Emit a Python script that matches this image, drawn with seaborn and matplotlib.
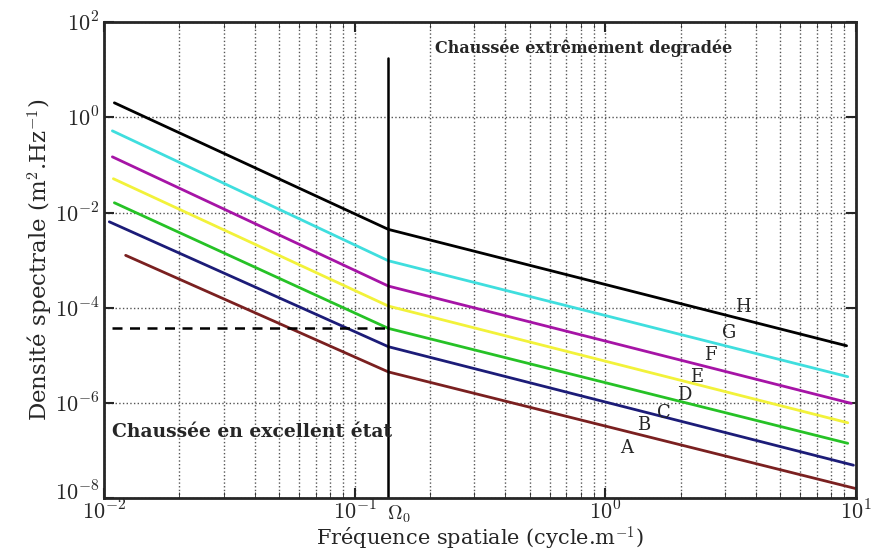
import numpy as np
import pandas as pd
import matplotlib
matplotlib.use('Agg')
import matplotlib.pyplot as plt
import matplotlib.transforms as mtrans
import seaborn as sns

# lectures sur la figure : debut, Omega0, fin
classes = ['H', 'G', 'F', 'E', 'D', 'C', 'A']
couleurs = ['#000000', '#3fdede', '#a614a6', '#f2f23a', '#26c226', '#1c1c78', '#7a2020']
x_debut = [0.011, 0.0108, 0.0108, 0.0109, 0.011, 0.0105, 0.0122]
x_fin = [9.2, 9.3, 9.6, 9.3, 9.3, 9.8, 10.0]
omega0 = 0.1365
log_debut = [0.305, -0.284, -0.83, -1.29, -1.795, -2.195, -2.90]
log_omega0 = [-2.355, -3.014, -3.546, -3.966, -4.435, -4.82, -5.35]
log_fin = [-4.80, -5.45, -6.01, -6.418, -6.85, -7.31, -7.80]

lettres = ['H', 'G', 'F', 'E', 'D', 'C', 'B', 'A']
lettres_x = [3.55, 3.12, 2.62, 2.31, 2.07, 1.72, 1.43, 1.22]
lettres_y = [1.03e-4, 2.9e-5, 1.0e-5, 3.5e-6, 1.45e-6, 6.1e-7, 3.5e-7, 1.1e-7]

seuil = 3.8e-5

rows = []
for c, xd, xf, a, b, e in zip(classes, x_debut, x_fin, log_debut, log_omega0, log_fin):
    rows.append((c, xd, 10 ** a))
    rows.append((c, omega0, 10 ** b))
    rows.append((c, xf, 10 ** e))
df = pd.DataFrame(rows, columns=['classe', 'n', 'Gd'])

sns.set_style('ticks')
plt.rcParams['font.family'] = ['DejaVu Serif']
plt.rcParams['mathtext.fontset'] = 'cm'

fig = plt.figure(figsize=(8.74, 5.54), dpi=100)
ax = fig.add_axes([0.119, 0.101, 0.860, 0.859])

sns.lineplot(data=df, x='n', y='Gd', hue='classe', palette=dict(zip(classes, couleurs)),
             linewidth=2, legend=False, ax=ax, sort=False)

puissance = matplotlib.ticker.FuncFormatter(lambda v, p: r'$10^{%d}$' % round(np.log10(v)))
ax.set_xscale('log')
ax.set_yscale('log')
ax.set_xlim(1e-2, 1e1)
ax.set_ylim(1e-8, 1e2)
ax.set_xticks([1e-2, 1e-1, 1e0, 1e1])
ax.set_yticks([1e-8, 1e-6, 1e-4, 1e-2, 1e0, 1e2])
ax.xaxis.set_major_formatter(puissance)
ax.yaxis.set_major_formatter(puissance)
ax.yaxis.set_minor_locator(matplotlib.ticker.NullLocator())
ax.xaxis.set_minor_locator(matplotlib.ticker.LogLocator(subs=np.arange(2, 10)))
ax.xaxis.set_minor_formatter(matplotlib.ticker.NullFormatter())
ax.grid(True, which='major', linestyle=':', color='#555555', linewidth=1)
ax.grid(True, which='minor', axis='x', linestyle=':', color='#555555', linewidth=1)
ax.tick_params(which='both', direction='in', top=True, right=True, labelsize=16)
ax.tick_params(axis='x', pad=2)
ax.tick_params(which='major', length=7, width=1.5)
ax.tick_params(which='minor', length=4)
for s in ax.spines.values():
    s.set_linewidth(2)

# 10^-8 un peu remonte pour ne pas chevaucher 10^-2
lab = ax.yaxis.get_major_ticks()[0].label1
lab.set_transform(lab.get_transform() + mtrans.ScaledTranslation(0, 5 / 72, fig.dpi_scale_trans))

ax.plot([omega0, omega0], [1e-8, 17.5], color='black', linewidth=1.8)
ax.plot([0.0108, omega0], [seuil, seuil], color='black', linestyle='--', linewidth=1.8, dashes=(4, 3))

for l, lx, ly in zip(lettres, lettres_x, lettres_y):
    ax.text(lx, ly, l, fontsize=13, ha='center', va='center')

ax.text(0.21, 28, 'Chaussée extrêmement degradée', fontsize=11.5, fontweight='bold',
        va='center', ha='left')
ax.text(0.0108, 2.4e-7, 'Chaussée en excellent état', fontsize=13.5, fontweight='bold',
        va='center', ha='left')
ax.text(omega0 * 0.99, 10 ** -8.12, r'$\Omega_0$', fontsize=14.5, va='top', ha='left')

ax.set_xlabel(r'Fréquence spatiale (cycle.m$^{-1}$)', fontsize=15, labelpad=0)
ax.set_ylabel(r'Densité spectrale (m$^2$.Hz$^{-1}$)', fontsize=16.5, labelpad=0)

fig.savefig('out.png', dpi=100)
